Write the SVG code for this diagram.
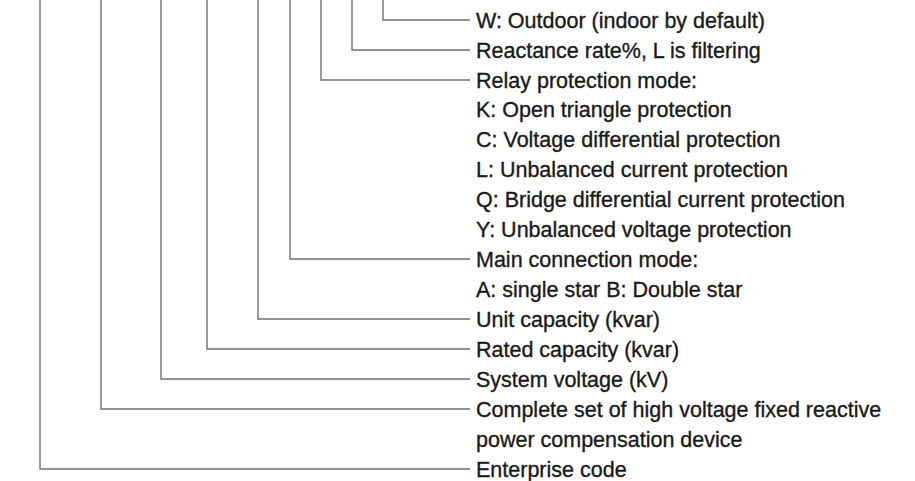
<svg xmlns="http://www.w3.org/2000/svg" width="915" height="481" viewBox="0 0 915 481">
<style>
.c{fill:none;stroke:#707070;stroke-width:1.4}
text{font-family:"Liberation Sans",Arial,sans-serif;font-size:21.5px;fill:#1a1a1a;stroke:#1a1a1a;stroke-width:0.35}
</style>
<rect width="915" height="481" fill="#ffffff"/>
<g id="connectors">
<path class="c" d="M383,0V20H470"/>
<path class="c" d="M352,0V50H470"/>
<path class="c" d="M321,0V80H470"/>
<path class="c" d="M290,0V259H470"/>
<path class="c" d="M258,0V319H470"/>
<path class="c" d="M207,0V349H470"/>
<path class="c" d="M161,0V379H470"/>
<path class="c" d="M101,0V409H470"/>
<path class="c" d="M40,0V469H470"/>
</g>
<g id="n-outdoor"><text x="476" y="27.5">W: Outdoor (indoor by default)</text></g>
<g id="n-reactance"><text x="476" y="57.5">Reactance rate%, L is filtering</text></g>
<g id="n-relay">
<text x="476" y="87.5">Relay protection mode:</text>
<text x="476" y="117.3">K: Open triangle protection</text>
<text x="476" y="147.2">C: Voltage differential protection</text>
<text x="476" y="177.2">L: Unbalanced current protection</text>
<text x="476" y="207.1">Q: Bridge differential current protection</text>
<text x="476" y="237">Y: Unbalanced voltage protection</text>
</g>
<g id="n-main">
<text x="476" y="266.9">Main connection mode:</text>
<text x="476" y="296.9">A: single star B: Double star</text>
</g>
<g id="n-unit"><text x="476" y="326.8">Unit capacity (kvar)</text></g>
<g id="n-rated"><text x="476" y="356.7">Rated capacity (kvar)</text></g>
<g id="n-system"><text x="476" y="386.7">System voltage (kV)</text></g>
<g id="n-complete">
<text x="476" y="416.6">Complete set of high voltage fixed reactive</text>
<text x="476" y="446.5">power compensation device</text>
</g>
<g id="n-enterprise"><text x="476" y="476.5">Enterprise code</text></g>
</svg>
